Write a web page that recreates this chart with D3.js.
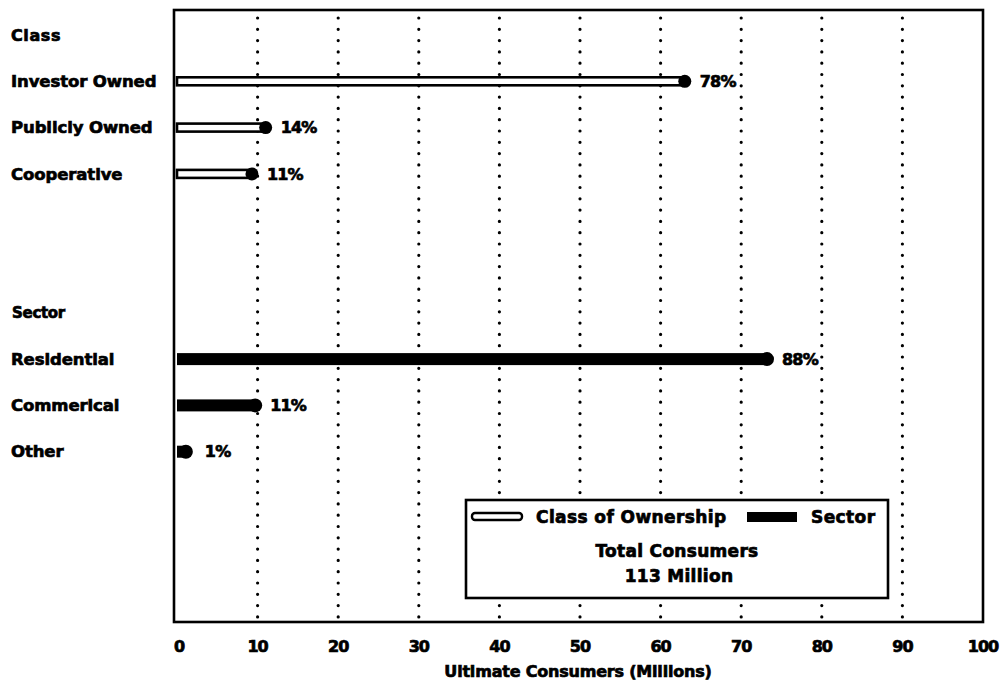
<!DOCTYPE html>
<html><head><meta charset="utf-8">
<script src="https://cdn.jsdelivr.net/npm/d3@7/dist/d3.min.js"></script>
<style>
body{margin:0;background:#fff;}
text{font-family:"DejaVu Sans",sans-serif;font-weight:bold;fill:#000;stroke:#000;stroke-width:0.7px;}
</style></head><body>
<svg id="c" width="1001" height="682"></svg>
<script>
const classCats = ["Investor Owned","Publicly Owned","Cooperative"];
const classVals = [63.0, 11.0, 9.3];
const classPct = ["78%","14%","11%"];
const sectorCats = ["Residential","Commerical","Other"];
const sectorVals = [73.2, 9.7, 1.1];
const sectorPct = ["88%","11%","1%"];
const xTicks = [0,10,20,30,40,50,60,70,80,90,100];
const gridTicks = [10,20,30,40,50,60,70,80,90];

const svg = d3.select("#c");
const x = d3.scaleLinear().domain([0,100]).range([177,983]);
const y = d3.scaleLinear().domain([0,1]).range([35,81.3]);
const box = {l:174,t:10,r:983,b:622};

svg.selectAll("line.grid").data(gridTicks).enter().append("line")
  .attr("x1",d=>x(d)).attr("x2",d=>x(d)).attr("y1",box.t+8).attr("y2",box.b-4)
  .attr("stroke","#000").attr("stroke-width",3.2).attr("stroke-linecap","round")
  .attr("stroke-dasharray","0,11.3");

svg.append("rect").attr("x",box.l).attr("y",box.t).attr("width",box.r-box.l).attr("height",box.b-box.t)
  .attr("fill","none").attr("stroke","#000").attr("stroke-width",2.6);

svg.append("text").attr("x",11).attr("y",y(0)).attr("dy","0.35em").attr("font-size",16).attr("letter-spacing","0.6").text("Class");
svg.append("text").attr("x",12).attr("y",y(6)).attr("dy","0.35em").attr("font-size",15).attr("letter-spacing","-0.3").text("Sector");

const classRows = classCats.map((c,i)=>({c,v:classVals[i],p:classPct[i],r:i+1}));
const sectorRows = sectorCats.map((c,i)=>({c,v:sectorVals[i],p:sectorPct[i],r:i+7}));

function labels(rows){
  svg.selectAll(null).data(rows).enter().append("text")
    .attr("x",11).attr("y",d=>y(d.r)).attr("dy","0.35em").attr("font-size",16.5)
    .attr("letter-spacing","-0.1").text(d=>d.c);
}
labels(classRows); labels(sectorRows);

svg.selectAll(null).data(classRows).enter().append("rect")
  .attr("x",x(0)).attr("y",d=>y(d.r)-4).attr("width",d=>x(d.v)-x(0)).attr("height",8)
  .attr("fill","#fff").attr("stroke","#000").attr("stroke-width",2.6);
svg.selectAll(null).data(classRows).enter().append("circle")
  .attr("cx",d=>x(d.v)).attr("cy",d=>y(d.r)).attr("r",6.5).attr("fill","#000");

svg.selectAll(null).data(sectorRows).enter().append("rect")
  .attr("x",x(0)).attr("y",d=>y(d.r)-6).attr("width",d=>x(d.v)-x(0)).attr("height",12)
  .attr("fill","#000");
svg.selectAll(null).data(sectorRows).enter().append("circle")
  .attr("cx",d=>x(d.v)).attr("cy",d=>y(d.r)).attr("r",7).attr("fill","#000");

svg.selectAll(null).data(classRows.concat(sectorRows)).enter().append("text")
  .attr("x",d=>x(d.v)+ (d.v<5?19:15)).attr("y",d=>y(d.r)).attr("dy","0.35em").attr("font-size",16)
  .attr("letter-spacing","-0.8").text(d=>d.p);

svg.selectAll(null).data(xTicks).enter().append("text")
  .attr("x",d=>x(d)+ (d===0?2:0)).attr("y",646).attr("dy","0.35em").attr("text-anchor","middle")
  .attr("font-size",16).attr("letter-spacing","-1").text(d=>d);
svg.append("text").attr("x",578).attr("y",671).attr("dy","0.35em").attr("text-anchor","middle")
  .attr("font-size",16).attr("letter-spacing","-0.2").text("Ultimate Consumers  (Millions)");

const lg = svg.append("g");
lg.append("rect").attr("x",466).attr("y",500).attr("width",422).attr("height",98)
  .attr("fill","#fff").attr("stroke","#000").attr("stroke-width",2.6);
lg.append("rect").attr("x",472).attr("y",513).attr("width",50).attr("height",7).attr("rx",3)
  .attr("fill","#fff").attr("stroke","#000").attr("stroke-width",2.4);
lg.append("text").attr("x",536).attr("y",517).attr("dy","0.35em").attr("font-size",17).attr("letter-spacing","0.4").text("Class of Ownership");
lg.append("rect").attr("x",747).attr("y",512).attr("width",50).attr("height",10).attr("fill","#000");
lg.append("text").attr("x",811).attr("y",517).attr("dy","0.35em").attr("font-size",17).attr("letter-spacing","0.4").text("Sector");
lg.append("text").attr("x",677).attr("y",551).attr("dy","0.35em").attr("text-anchor","middle").attr("font-size",17).attr("letter-spacing","0.3").text("Total Consumers");
lg.append("text").attr("x",679).attr("y",576).attr("dy","0.35em").attr("text-anchor","middle").attr("font-size",17).attr("letter-spacing","0.3").text("113 Million");
</script>
</body></html>
